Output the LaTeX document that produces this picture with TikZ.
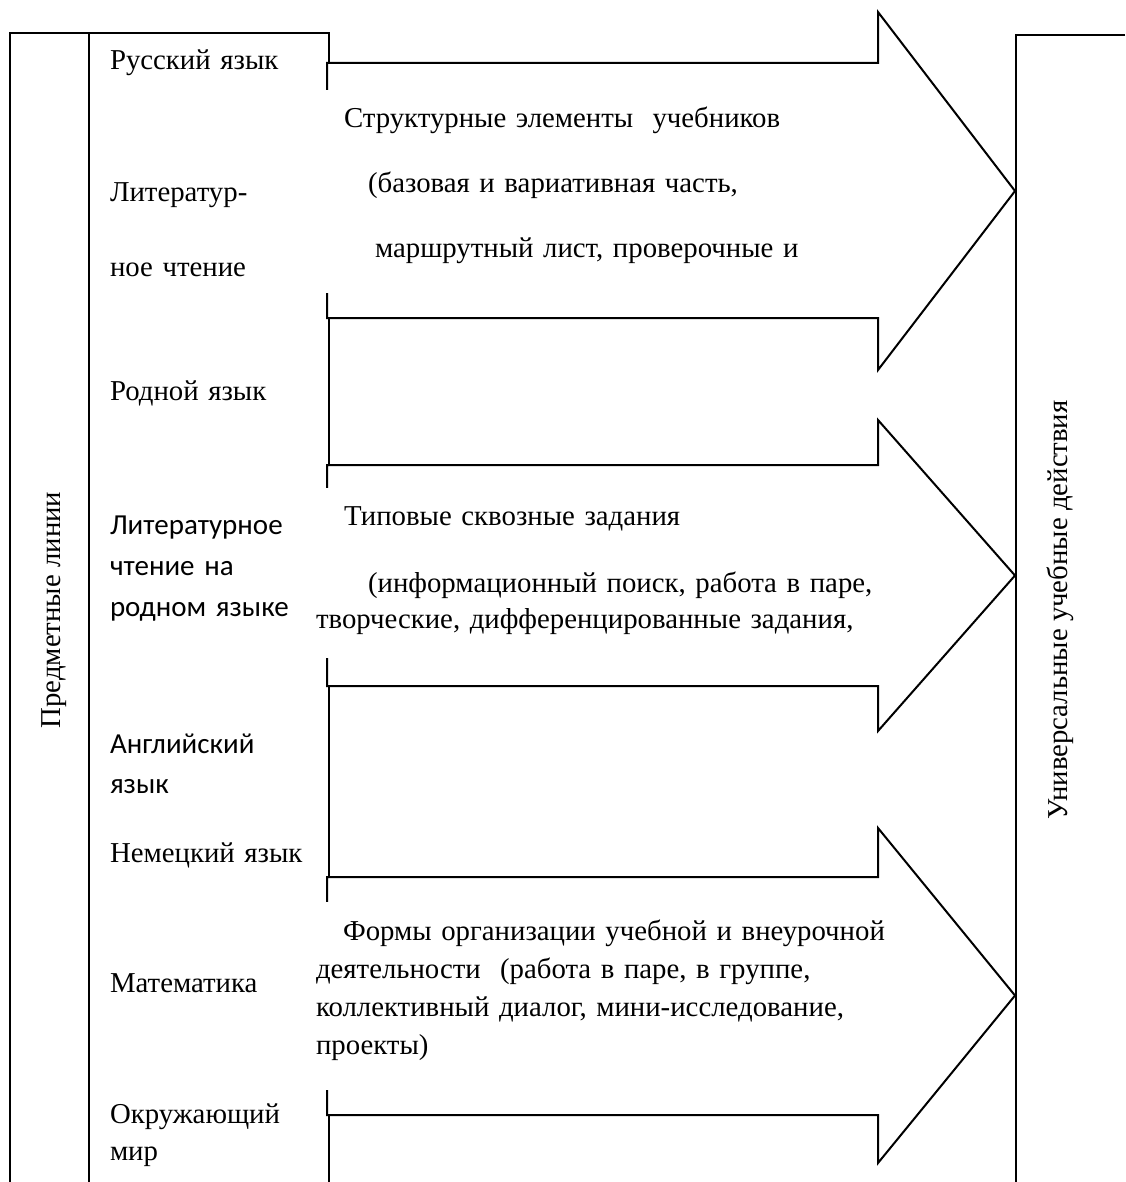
\documentclass[tikz,border=0pt]{standalone}
\usepackage{fontspec}
\setmainfont{Liberation Serif}
\newfontfamily\sansline{Carlito}
\begin{document}
\begin{tikzpicture}[x=0.5pt,y=-0.5pt,line width=1pt,
		every node/.style={inner sep=0pt},
		times/.style={font=\fontsize{14.4}{#1}\selectfont},
		calib/.style={font=\sansline\fontsize{14.5}{#1}\selectfont},
		subj/.style={anchor=base west,align=left,text width=110pt},
		band/.style={anchor=base west,align=left,text width=330pt}]
	\useasboundingbox (0,0) rectangle (1125,1182);
	\begin{scope}
		\clip (0,0) rectangle (1125,1182);
		% column of subjects
		\draw (10,1182)-- (10,33)-- (329,33)-- (329,1182);
		\draw (89,33)-- (89,1182);
		% column of learning actions
		\draw (1125,35)-- (1016,35)-- (1016,1182);
		% block arrows
		\foreach \bt/\bb/\ht/\hb in {63/318/12/370, 465/686/420/731, 877/1115/828/1163}
			\filldraw[fill=white] (327,\bt)-- (878,\bt)-- (878,\ht)-- (1015,{(\ht+\hb)/2})-- (878,\hb)-- (878,\bb)-- (327,\bb)-- cycle;
		% text boxes on the arrows
		\fill[white] (305,90) rectangle (870,293);
		\fill[white] (305,488) rectangle (870,658);
		\fill[white] (305,902) rectangle (870,1090);
	\end{scope}
	\node[rotate=90,anchor=base,times=18] (pred) at (60,610) {Предметные линии};
	\node[rotate=90,anchor=base,times=18] (uud) at (1067,610) {Универсальные учебные действия};
	\node[subj,times=18] (rus) at (109,70) {Русский язык};
	\node[subj,times=37.5] (lit) at (109,202) {Литератур-\\ное чтение};
	\node[subj,times=18] (rod) at (109,400) {Родной язык};
	\node[subj,calib=20.5] (litrod) at (109,534) {Литературное\\чтение на\\родном языке};
	\node[subj,calib=20] (eng) at (109,753) {Английский\\язык};
	\node[subj,times=18] (ger) at (109,862) {Немецкий язык};
	\node[subj,times=18] (math) at (109,992) {Математика};
	\node[subj,times=18.5] (env) at (109,1123) {Окружающий\\мир};
	\node[band,times=32.5] (struct) at (343,128) {Структурные элементы\ \ учебников\\
		\hspace*{12pt}(базовая и вариативная часть,\\
		\hspace*{15.5pt}маршрутный лист, проверочные и};
	\node[band,times=18] (tasks) at (315,525) {\hspace*{14pt}Типовые сквозные задания\\[15.5pt]
		\hspace*{26pt}(информационный поиск, работа в паре,\\
		творческие, дифференцированные задания,};
	\node[band,times=19] (forms) at (315,940) {\hspace*{13.5pt}Формы организации учебной и внеурочной\\
		деятельности\ \ (работа в паре, в группе,\\
		коллективный диалог, мини-исследование,\\
		проекты)};
\end{tikzpicture}
\end{document}
